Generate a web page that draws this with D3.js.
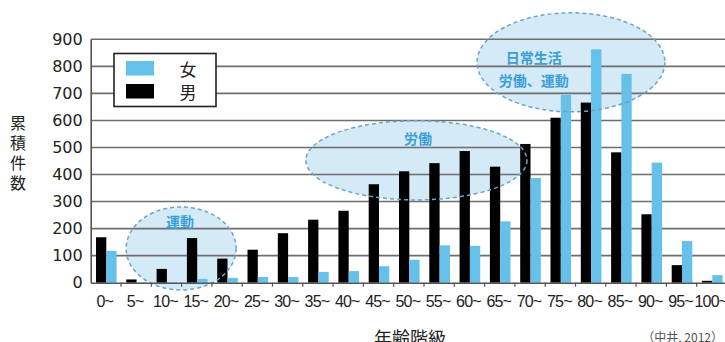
<!DOCTYPE html>
<html>
<head>
<meta charset="utf-8">
<script src="https://cdn.jsdelivr.net/npm/d3@7"></script>
<style>
  body { margin: 0; background: #fff; }
  svg { display: block; }
  text { font-family: "Liberation Sans", Arial, sans-serif; }
  .jp { font-family: "Noto Sans CJK JP", sans-serif; }
</style>
</head>
<body>
<svg></svg>
<script>
let categories = ['0~','5~','10~','15~','20~','25~','30~','35~','40~','45~','50~','55~','60~','65~','70~','75~','80~','85~','90~','95~','100~']
let female = [118, 2, 1, 14, 18, 21, 21, 40, 43, 61, 85, 138, 136, 227, 387, 695, 863, 772, 444, 154, 28]
let male = [168, 12, 51, 165, 89, 122, 183, 233, 266, 364, 412, 442, 487, 429, 513, 610, 666, 482, 253, 65, 7]
let yTicks = [0, 100, 200, 300, 400, 500, 600, 700, 800, 900]

// ellipses: band position range (in categories) and value range
let bubbles = [
  { b0: 1.17, b1: 4.8, v0: -27, v1: 280, lines: ['運動'], tb: 2.95, tv: 228 },
  { b0: 7.1, b1: 14.4, v0: 306, v1: 599, lines: ['労働'], tb: 10.8, tv: 535 },
  { b0: 12.75, b1: 18.95, v0: 632, v1: 998, lines: ['日常生活', '労働、運動'], tb: 14.62, tv: 835 }
]

let width = 725
let height = 342
let plotLeft = 90.7
let plotRight = 727
let plotTop = 39.3
let plotBottom = 282.7

let blue = '#66c1ea'

let svg = d3.select('svg')
  .attr('width', width)
  .attr('height', height)

let xScale = d3.scaleBand()
  .domain(categories)
  .range([plotLeft, plotRight])

let step = xScale.step()
let bandPos = (b) => plotLeft + b * step

let yScale = d3.scaleLinear()
  .domain([0, 900])
  .range([plotBottom, plotTop])

let barW = step * 0.34
let pad = step * 0.175

let ellipseAttrs = (sel, b) => {
  let x0 = bandPos(b.b0), x1 = bandPos(b.b1)
  let y0 = yScale(b.v1), y1 = yScale(b.v0)
  sel.attr('cx', (x0 + x1) / 2)
    .attr('cy', (y0 + y1) / 2)
    .attr('rx', (x1 - x0) / 2)
    .attr('ry', (y1 - y0) / 2)
}

// ellipse fills (behind)
bubbles.forEach((b) => {
  svg.append('ellipse')
    .call(ellipseAttrs, b)
    .attr('fill', 'rgba(170, 214, 240, 0.5)')
})

// grid lines
svg.append('g')
  .selectAll('line')
  .data(yTicks.filter(d => d > 0))
  .enter()
  .append('line')
  .attr('x1', plotLeft)
  .attr('x2', width)
  .attr('y1', d => yScale(d))
  .attr('y2', d => yScale(d))
  .attr('stroke', '#6e6e6e')
  .attr('stroke-width', 1.6)

// y axis
let yAxis = d3.axisLeft(yScale).tickValues(yTicks).tickSize(0).tickPadding(8)
let gy = svg.append('g')
  .attr('transform', 'translate(' + plotLeft + ',0)')
  .call(yAxis)
gy.select('.domain').attr('stroke', '#555').attr('stroke-width', 1.6)
gy.selectAll('text')
  .attr('font-size', 16)
  .attr('fill', '#222')
  .style('font-family', '"DejaVu Sans", sans-serif')

// bars
svg.append('g')
  .selectAll('rect')
  .data(male)
  .enter()
  .append('rect')
  .attr('x', (d, i) => xScale(categories[i]) + pad)
  .attr('y', d => yScale(d))
  .attr('width', barW)
  .attr('height', d => plotBottom - yScale(d))
  .attr('fill', '#000')

svg.append('g')
  .selectAll('rect')
  .data(female)
  .enter()
  .append('rect')
  .attr('x', (d, i) => xScale(categories[i]) + pad + barW)
  .attr('y', d => yScale(d))
  .attr('width', barW)
  .attr('height', d => plotBottom - yScale(d))
  .attr('fill', blue)

// ellipse outlines and labels (on top)
bubbles.forEach((b) => {
  svg.append('ellipse')
    .call(ellipseAttrs, b)
    .attr('fill', 'none')
    .attr('stroke', '#6fa3c6')
    .attr('stroke-width', 1.5)
    .attr('stroke-dasharray', '4,3')
  b.lines.forEach((t, k) => {
    svg.append('text')
      .attr('class', 'jp')
      .attr('x', bandPos(b.tb))
      .attr('y', yScale(b.tv) + k * 23)
      .attr('text-anchor', 'middle')
      .attr('dominant-baseline', 'central')
      .attr('font-size', 14)
      .attr('font-weight', 'bold')
      .attr('fill', '#3a9fd9')
      .text(t)
  })
})

// x axis
let xAxis = d3.axisBottom(xScale).tickSize(0).tickPadding(13)
let gx = svg.append('g')
  .attr('transform', 'translate(0,' + plotBottom + ')')
  .call(xAxis)
gx.select('.domain').attr('stroke', '#555').attr('stroke-width', 1.6)
gx.selectAll('text')
  .attr('font-size', 16)
  .attr('fill', '#222')
  .attr('dx', -1)
  .style('letter-spacing', '-0.8px')
  .style('font-family', '"Liberation Sans", Arial, sans-serif')
svg.append('g')
  .selectAll('line')
  .data(categories.slice(1))
  .enter()
  .append('line')
  .attr('x1', d => xScale(d))
  .attr('x2', d => xScale(d))
  .attr('y1', plotBottom)
  .attr('y2', plotBottom + 4)
  .attr('stroke', '#555')
  .attr('stroke-width', 1.2)

// legend
let legend = svg.append('g')
legend.append('rect')
  .attr('x', 114).attr('y', 53.5).attr('width', 102).attr('height', 53)
  .attr('fill', '#fff').attr('stroke', '#222').attr('stroke-width', 1.6)
let legendItems = [{ name: '女', color: blue }, { name: '男', color: '#000' }]
legendItems.forEach((d, i) => {
  legend.append('rect')
    .attr('x', 126).attr('y', 61 + i * 23).attr('width', 28).attr('height', 14.5)
    .attr('fill', d.color)
  legend.append('text')
    .attr('class', 'jp')
    .attr('x', 188).attr('y', 68 + i * 23)
    .attr('text-anchor', 'middle')
    .attr('dominant-baseline', 'central')
    .attr('font-size', 17)
    .attr('fill', '#222')
    .text(d.name)
})

// axis titles
svg.append('text')
  .attr('class', 'jp')
  .attr('x', 18)
  .attr('y', 154.5)
  .attr('text-anchor', 'middle')
  .style('writing-mode', 'vertical-rl')
  .style('text-orientation', 'upright')
  .style('letter-spacing', '4px')
  .attr('font-size', 16)
  .attr('fill', '#222')
  .text('累積件数')

svg.append('text')
  .attr('class', 'jp')
  .attr('x', 410)
  .attr('y', 337)
  .attr('text-anchor', 'middle')
  .attr('dominant-baseline', 'central')
  .attr('font-size', 18)
  .attr('fill', '#222')
  .text('年齢階級')

svg.append('text')
  .attr('class', 'jp')
  .attr('x', 723)
  .attr('y', 336)
  .attr('text-anchor', 'end')
  .attr('dominant-baseline', 'central')
  .attr('font-size', 12)
  .attr('fill', '#555')
  .text('（中井, 2012）')
</script>
</body>
</html>
